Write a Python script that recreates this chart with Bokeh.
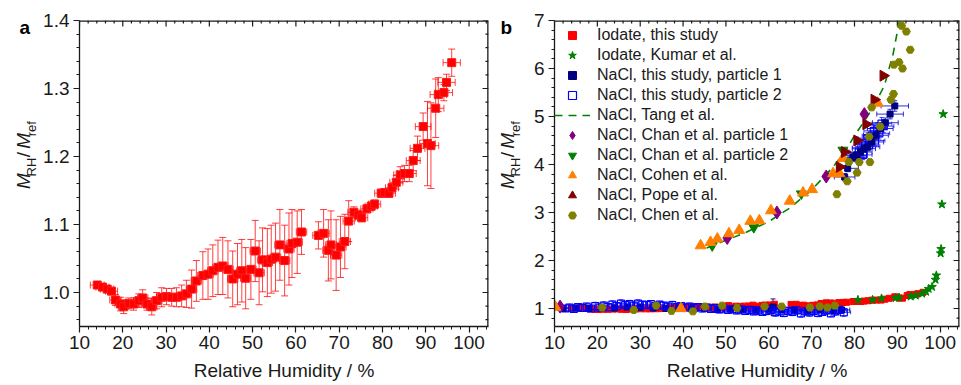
import numpy as np
from bokeh.plotting import figure
from bokeh.layouts import row
from bokeh.models import (ColumnDataSource, Whisker, TeeHead, Range1d,
                          FixedTicker, Legend, LegendItem, PrintfTickFormatter)
from bokeh.core.properties import value
from bokeh.embed import file_html
from bokeh.resources import INLINE

# ---------------- data: panel a (iodate, this study) ----------------
RH_A = [14.1, 15.3, 16.4, 17.4, 18.3, 19.5, 20.2, 21.4, 22.5, 23.7, 24.6, 25.6, 26.7, 27.8,
        29.0, 30.1, 31.3, 32.4, 33.6, 34.7, 35.9, 37.0, 38.5, 39.7, 40.8, 42.0, 43.1, 44.3,
        45.4, 46.5, 47.5, 48.4, 49.6, 50.6, 51.5, 52.3, 53.4, 54.3, 55.3, 56.3, 57.4, 58.4,
        59.1, 60.3, 61.3, 65.2, 66.4, 67.5, 68.1, 69.3, 70.3, 71.3, 72.2, 73.4, 74.4, 75.2,
        76.4, 77.4, 78.2, 79.7, 80.5, 81.5, 82.2, 83.2, 84.1, 85.1, 86.2, 87.1, 88.1, 89.4,
        90.4, 91.2, 92.3, 92.9, 94.2, 94.8, 96.0]
M_A = [1.011, 1.008, 1.005, 1.002, 0.989, 0.983, 0.979, 0.984, 0.983, 0.988, 0.992, 0.983,
       0.979, 0.988, 0.993, 0.994, 0.993, 0.993, 0.995, 0.998, 1.005, 1.017, 1.025, 1.027,
       1.032, 1.037, 1.039, 1.034, 1.020, 1.027, 1.032, 1.021, 1.034, 1.061, 1.029, 1.048,
       1.044, 1.049, 1.052, 1.070, 1.047, 1.064, 1.072, 1.074, 1.089, 1.084, 1.087, 1.062,
       1.070, 1.055, 1.067, 1.075, 1.105, 1.118, 1.114, 1.110, 1.123, 1.127, 1.130, 1.146,
       1.147, 1.146, 1.154, 1.162, 1.173, 1.175, 1.175, 1.194, 1.212, 1.244, 1.219, 1.216,
       1.271, 1.291, 1.294, 1.309, 1.338]
YERR_A = [0.003, 0.003, 0.004, 0.005,
          0.008, 0.010, 0.010, 0.008, 0.009, 0.010, 0.012, 0.009, 0.012, 0.012, 0.014, 0.012,
          0.013, 0.014, 0.016, 0.020,
          0.028, 0.030, 0.035, 0.037, 0.038, 0.040, 0.042, 0.042, 0.041, 0.045, 0.046, 0.045, 0.044,
          0.045, 0.047, 0.047, 0.050, 0.050, 0.050, 0.052, 0.052, 0.053, 0.050, 0.046, 0.033,
          0.020, 0.035, 0.045, 0.050, 0.052, 0.045, 0.040,
          0.030,
          0.008, 0.006, 0.006, 0.006, 0.006, 0.006, 0.006, 0.006, 0.006, 0.006, 0.010, 0.012,
          0.012, 0.012, 0.015, 0.018,
          0.020, 0.062, 0.063, 0.043, 0.025, 0.012, 0.012, 0.020]
XERR_A = [1.6, 1.5, 1.5, 1.4, 1.3, 1.3, 1.2, 1.2, 1.2, 1.2, 1.2, 1.2, 1.2, 1.2,
          1.2, 1.2, 1.2, 1.2, 1.2, 1.2, 1.2, 1.2, 1.2, 1.2, 1.2, 1.2, 1.2, 1.2,
          1.2, 1.2, 1.2, 1.2, 1.2, 1.2, 1.2, 1.2, 1.2, 1.2, 1.2, 1.2, 1.2, 1.2,
          1.2, 1.2, 1.2, 1.3, 1.3, 1.3, 1.3, 1.3, 1.3, 1.3, 1.3, 1.4, 1.4, 1.4,
          1.4, 1.4, 1.4, 1.5, 1.5, 1.5, 1.5, 1.5, 1.5, 1.6, 1.6, 1.6, 1.7, 1.8,
          1.8, 1.8, 1.9, 1.9, 2.0, 2.0, 2.0]

# ---------------- data: panel b ----------------
KUMAR_RH = [80.8, 84.2, 86.3, 89.6, 90.4, 93.1, 94.3, 95.8, 96.7, 97.3, 98.1, 98.9, 99.1,
            100.1, 100.2, 100.4, 100.7]
KUMAR_M = [1.18, 1.18, 1.21, 1.22, 1.23, 1.25, 1.27, 1.31, 1.35, 1.41, 1.45, 1.60, 1.69,
           2.15, 2.24, 3.17, 5.05]

P1_LOW_RH = [12.0, 15.0, 18.0, 21.0, 24.0, 27.0, 30.0, 33.0, 36.0, 39.0, 42.0, 45.0, 48.0,
             51.0, 54.0, 57.0, 60.0, 61.0, 63.0, 66.0, 69.0, 72.0, 75.0, 77.0]
P1_LOW_M = [1.00, 1.01, 1.00, 1.02, 1.01, 1.03, 1.02, 1.01, 1.00, 1.01, 0.99, 1.00, 0.98,
            0.99, 0.98, 0.97, 0.99, 1.03, 0.98, 0.97, 0.96, 0.97, 0.96, 0.97]
P1_LOW_YERR = [0.03, 0.03, 0.03, 0.04, 0.04, 0.04, 0.04, 0.04, 0.04, 0.04, 0.04, 0.04, 0.04,
               0.04, 0.04, 0.05, 0.05, 0.17, 0.05, 0.05, 0.05, 0.05, 0.05, 0.05]
P1_LOW_XERR = [1.2, 1.2, 1.3, 1.3, 1.3, 1.3, 1.3, 1.4, 1.4, 1.4, 1.4, 1.4, 1.5,
               1.5, 1.5, 1.5, 1.6, 1.6, 1.6, 1.7, 1.7, 1.8, 1.8, 1.9]
P1_UP_RH = [77.7, 78.4, 79.6, 80.4, 81.4, 82.2, 83.1, 84.0, 85.0, 86.0, 87.2, 88.3, 89.4]
P1_UP_M = [3.74, 3.92, 4.15, 4.19, 4.26, 4.33, 4.37, 4.47, 4.61, 4.75, 4.87, 5.05, 5.22]
P1_UP_XERR = [2.4, 2.5, 2.6, 2.6, 2.7, 2.7, 2.8, 2.8, 2.9, 3.0, 3.0, 3.1, 3.2]
P1_UP_YERR = [0.07, 0.07, 0.08, 0.08, 0.08, 0.08, 0.09, 0.09, 0.09, 0.10, 0.10, 0.10, 0.11]

P2_LOW_RH = [12.5, 13.5, 14.5, 15.5, 16.5, 17.5, 18.5, 19.5, 20.5, 21.5,
             22.5, 23.5, 24.5, 25.5, 26.5, 27.5, 28.5, 29.5, 30.5, 31.5,
             32.5, 33.5, 34.5, 35.5, 36.5, 37.5, 38.5, 39.5, 40.5, 41.5,
             42.5, 43.5, 44.5, 45.5, 46.5, 47.5, 48.5, 49.5, 50.5, 51.5,
             52.5, 53.5, 54.5, 55.5, 56.5, 57.5, 58.5, 59.5, 60.5, 61.5,
             62.5, 63.5, 64.5, 65.5, 66.5, 67.5, 68.5, 69.5, 70.5, 71.5,
             72.5, 73.5, 74.5, 75.5, 76.5, 77.5]
P2_LOW_M = [1.00, 1.02, 0.99, 1.03, 1.01, 1.04, 1.00, 1.05, 1.02, 1.06,
            1.03, 1.08, 1.05, 1.10, 1.07, 1.09, 1.06, 1.10, 1.08, 1.07,
            1.09, 1.05, 1.08, 1.06, 1.04, 1.07, 1.03, 1.05, 1.02, 1.04,
            1.01, 1.03, 1.00, 1.02, 0.99, 1.01, 0.98, 1.00, 0.97, 0.99,
            0.96, 0.98, 0.95, 0.97, 0.94, 0.96, 0.93, 0.95, 0.97, 0.92,
            0.94, 0.91, 0.95, 0.93, 0.96, 0.90, 0.94, 0.92, 0.95, 0.91,
            0.93, 0.96, 0.90, 0.94, 0.97, 0.92]
P2_LOW_YERR = [0.06, 0.07, 0.06, 0.07, 0.06, 0.07, 0.06, 0.08, 0.07, 0.08,
               0.07, 0.08, 0.07, 0.08, 0.07, 0.08, 0.07, 0.08, 0.07, 0.08,
               0.07, 0.08, 0.07, 0.07, 0.07, 0.08, 0.07, 0.07, 0.07, 0.07,
               0.07, 0.07, 0.07, 0.07, 0.07, 0.07, 0.07, 0.07, 0.07, 0.07,
               0.07, 0.07, 0.07, 0.07, 0.07, 0.08, 0.07, 0.08, 0.07, 0.08,
               0.07, 0.08, 0.07, 0.08, 0.07, 0.08, 0.07, 0.08, 0.07, 0.08,
               0.07, 0.08, 0.07, 0.08, 0.07, 0.08]
P2_LOW_XERR = [1.0, 1.0, 1.0, 1.1, 1.0, 1.1, 1.0, 1.1, 1.0, 1.1,
               1.1, 1.1, 1.1, 1.2, 1.1, 1.2, 1.1, 1.2, 1.1, 1.2,
               1.2, 1.2, 1.2, 1.2, 1.2, 1.2, 1.2, 1.2, 1.2, 1.2,
               1.3, 1.3, 1.3, 1.3, 1.3, 1.3, 1.3, 1.3, 1.3, 1.3,
               1.4, 1.4, 1.4, 1.4, 1.4, 1.4, 1.4, 1.4, 1.4, 1.4,
               1.5, 1.5, 1.5, 1.5, 1.5, 1.5, 1.5, 1.5, 1.5, 1.5,
               1.6, 1.6, 1.6, 1.6, 1.6, 1.6]
P2_UP_RH = [80.5, 81.0, 81.6, 82.0, 82.5, 83.0, 83.4, 84.0, 84.5, 84.8, 85.3, 85.8, 86.3, 86.8]
P2_UP_M = [4.15, 4.25, 4.35, 4.20, 4.45, 4.55, 4.40, 4.60, 4.70, 4.50, 4.75, 4.65, 4.85, 4.80]
P2_UP_XERR = [2.0, 2.0, 2.1, 2.1, 2.1, 2.2, 2.2, 2.2, 2.3, 2.3, 2.3, 2.4, 2.4, 2.4]
P2_UP_YERR = [0.10, 0.10, 0.10, 0.10, 0.11, 0.11, 0.11, 0.11, 0.12, 0.12, 0.12, 0.12, 0.13, 0.13]

TANG_RH = [45.5, 50, 55, 60, 65, 70, 75, 78, 80, 83, 85, 87, 89, 90.5]
TANG_M = [2.26, 2.42, 2.60, 2.81, 3.10, 3.47, 3.95, 4.30, 4.60, 5.00, 5.30, 5.65, 6.30, 7.00]

CHAN1_RH = [11.3, 50.3, 61.9, 73.4, 82.3]
CHAN1_M = [1.04, 2.47, 3.00, 3.75, 5.05]
CHAN2_RH = [46.8, 56.5, 67.6, 77.3]
CHAN2_M = [2.31, 2.69, 3.39, 4.30]
COHEN_RH = [10.2, 39.5, 44.1, 46.4, 48.0, 50.7, 53.1, 55.7, 57.8, 60.5, 64.9, 68.0, 70.1,
            75.0, 76.5, 77.3, 85.4]
COHEN_M = [1.03, 1.00, 2.31, 2.38, 2.45, 2.56, 2.63, 2.82, 2.83, 3.04, 3.24, 3.41, 3.48,
           3.81, 3.81, 4.13, 5.28]
POPE_RH = [76.5, 77.7, 80.6, 82.7, 84.6, 86.7]
POPE_M = [3.95, 4.26, 4.50, 4.84, 5.35, 5.85]
CHEN_RH = [21.1, 28.5, 33.7, 37.3, 42.3, 45.1, 49.1, 52.6, 59.0, 63.0,
           69.6, 71.9, 73.7, 75.4, 75.9, 78.3, 78.7, 80.6, 81.1, 83.6,
           83.4, 86.0, 84.0, 88.5, 89.1, 89.2, 90.4, 91.2, 93.0, 92.1, 91.0]
CHEN_M = [1.02, 0.97, 1.06, 0.95, 0.94, 1.04, 1.06, 1.01, 1.04, 1.04,
          1.02, 1.04, 1.02, 1.06, 3.38, 3.65, 4.05, 3.83, 4.05, 4.05,
          4.58, 4.79, 5.19, 5.35, 5.47, 6.08, 6.13, 6.00, 6.39, 6.77, 6.89]

X_TICKS = [10, 20, 30, 40, 50, 60, 70, 80, 90, 100]
YA_TICKS = [1.0, 1.1, 1.2, 1.3, 1.4]
YB_TICKS = [1, 2, 3, 4, 5, 6, 7]

LEGEND_LABELS = ["Iodate, this study", "Iodate, Kumar et al.", "NaCl, this study, particle 1",
                 "NaCl, this study, particle 2", "NaCl, Tang et al.",
                 "NaCl, Chan et al. particle 1", "NaCl, Chan et al. particle 2",
                 "NaCl, Cohen et al.", "NaCl, Pope et al.", "NaCl, Chen et al."]
YLABEL_PARTS = ["M", "RH", "/", "M", "ref"]
PANEL_LETTERS = ["a", "b"]

# ---------------- styling ----------------
FONT = "Liberation Sans"
INK = "#1a1a1a"
H = 385
X_END = 104.5
FRAME_W = 410.0   # approx. frame size in px (used for mirrored tick lengths)
FRAME_H = 306.0


def style_axis(ax):
    ax.axis_line_color = INK
    ax.axis_line_width = 1.3
    ax.major_tick_line_color = INK
    ax.minor_tick_line_color = INK
    ax.major_tick_line_width = 1.2
    ax.minor_tick_line_width = 1.0
    ax.major_tick_out, ax.major_tick_in = 6, 0
    ax.minor_tick_out, ax.minor_tick_in = 3, 0
    ax.major_label_text_font = FONT
    ax.major_label_text_color = INK
    ax.major_label_text_font_size = "19px"


def minor_between(major, step, lo, hi):
    out = []
    v = lo
    while v <= hi + 1e-9:
        if all(abs(v - m) > 1e-6 for m in major):
            out.append(round(v, 6))
        v += step
    return out


def make_panel(width, left, y_start, y_end, y_ticks, y_minor_lo, y_minor_step, yfmt):
    p = figure(width=width, height=H, x_range=Range1d(10, X_END),
               y_range=Range1d(y_start, y_end), output_backend="svg",
               toolbar_location=None, min_border_left=left, min_border_right=2,
               min_border_top=20, min_border_bottom=59)
    p.outline_line_color = None
    p.grid.visible = False
    p.background_fill_color = "white"
    p.border_fill_color = "white"
    x_minor = minor_between(X_TICKS, 2, 10, 104)
    y_minor = minor_between(y_ticks, y_minor_step, y_minor_lo, y_end)
    p.xaxis.ticker = FixedTicker(ticks=X_TICKS, minor_ticks=x_minor)
    p.yaxis.ticker = FixedTicker(ticks=y_ticks, minor_ticks=y_minor)
    p.yaxis.formatter = PrintfTickFormatter(format=yfmt)
    style_axis(p.xaxis[0])
    style_axis(p.yaxis[0])
    p.xaxis.major_label_standoff = 3
    p.yaxis.major_label_standoff = 4
    p.xaxis.axis_label = "Relative Humidity / %"
    p.xaxis.axis_label_text_font = FONT
    p.xaxis.axis_label_text_font_size = "19px"
    p.xaxis.axis_label_text_font_style = "normal"
    p.xaxis.axis_label_text_color = INK
    p.xaxis.axis_label_standoff = 8

    # mirrored frame edges with inward ticks (top and right)
    dx = (X_END - 10) / FRAME_W          # data units per px along x
    dy = (y_end - y_start) / FRAME_H     # data units per px along y
    p.segment(x0=[10, X_END], y0=[y_end, y_start], x1=[X_END, X_END], y1=[y_end, y_end],
              line_color=INK, line_width=2.6)
    for ticks, n in ((X_TICKS, 6), (x_minor, 3)):
        p.segment(x0=ticks, y0=[y_end] * len(ticks), x1=ticks,
                  y1=[y_end - n * dy] * len(ticks), line_color=INK, line_width=1.2)
    for ticks, n in ((y_ticks, 6), (y_minor, 3)):
        p.segment(x0=[X_END] * len(ticks), y0=ticks, x1=[X_END - n * dx] * len(ticks),
                  y1=ticks, line_color=INK, line_width=1.2)
    return p


def make_label_strip(width, letter, main_cx, sub_cx, letter_x):
    """Narrow text-only strip holding the panel letter and the rotated y-axis title.
    Coordinates of this strip are plain canvas pixels (y measured from the bottom)."""
    s = figure(width=width, height=H, x_range=Range1d(0, width), y_range=Range1d(0, H),
               output_backend="svg", toolbar_location=None, title_location=None,
               min_border=0, min_border_top=0, min_border_bottom=0,
               min_border_left=0, min_border_right=0,
               x_axis_location=None, y_axis_location=None)
    if s.title is not None:
        s.title.visible = False
    s.outline_line_color = None
    s.grid.visible = False
    s.background_fill_color = "white"
    s.border_fill_color = "white"
    # the rotated title starts (bottom) at canvas y = 212 px; offsets along the text
    y0 = H - 212
    offs = [0.0, 15.8, 39.9, 50.5, 66.3]
    styles = ["italic", "normal", "normal", "italic", "normal"]
    sizes = ["19px", "13px", "19px", "19px", "13px"]
    xs = [main_cx, sub_cx, main_cx, main_cx, sub_cx]
    for txt, off, st, sz, x in zip(YLABEL_PARTS, offs, styles, sizes, xs):
        s.text(x=[x], y=[y0 + off], text=[txt], angle=np.pi / 2,
               text_font=value(FONT), text_font_style=st, text_font_size=value(sz),
               text_color=INK, text_align="left", text_baseline="middle")
    s.text(x=[letter_x], y=[H - 8.5], text=[letter], text_font=value(FONT),
           text_font_style="bold", text_font_size=value("19px"), text_color="black",
           text_align="left", text_baseline="middle")
    return s


def add_err(p, rh, m, xerr, yerr, color, alpha, cap):
    rh = np.asarray(rh, float)
    m = np.asarray(m, float)
    xe = np.asarray(xerr, float)
    ye = np.asarray(yerr, float)
    src = ColumnDataSource(dict(x=rh, y=m, xl=rh - xe, xu=rh + xe, yl=m - ye, yu=m + ye))
    for base, lo, hi, dim in (("x", "yl", "yu", "height"), ("y", "xl", "xu", "width")):
        w = Whisker(source=src, base=base, lower=lo, upper=hi, dimension=dim,
                    line_color=color, line_alpha=alpha, line_width=1,
                    upper_head=TeeHead(size=cap, line_color=color, line_alpha=alpha, line_width=1),
                    lower_head=TeeHead(size=cap, line_color=color, line_alpha=alpha, line_width=1))
        p.add_layout(w)


# ---------------- panel a ----------------
la = make_label_strip(40, PANEL_LETTERS[0], 23.0, 31.0, 19)
pa = make_panel(450, 37, 0.95, 1.4, YA_TICKS, 0.96, 0.02, "%.1f")
add_err(pa, RH_A, M_A, XERR_A, YERR_A, "#ff0000", 0.75, 7)
pa.scatter(RH_A, M_A, marker="square", size=8, fill_color="#ff0000", line_color="#ff1a1a",
           line_width=1)

# ---------------- panel b ----------------
lb = make_label_strip(40, PANEL_LETTERS[1], 16.5, 24.5, 10)
pb = make_panel(431, 21, 0.625, 7.0, YB_TICKS, 0.8, 0.2, "%d")

r_red = pb.scatter(RH_A, M_A, marker="square", size=6, fill_color="#ff0000",
                   line_color="#ff0000")
r_kumar = pb.scatter(KUMAR_RH, KUMAR_M, marker="star", size=9, fill_color="#008000",
                     line_color="#008000")
add_err(pb, P1_LOW_RH, P1_LOW_M, P1_LOW_XERR, P1_LOW_YERR, "#00008b", 0.9, 5)
r_p1 = pb.scatter(P1_LOW_RH, P1_LOW_M, marker="square", size=6, fill_color="#000080",
                  line_color="#000080")
add_err(pb, P2_LOW_RH, P2_LOW_M, P2_LOW_XERR, P2_LOW_YERR, "#1f1fff", 0.85, 4)
add_err(pb, P2_UP_RH, P2_UP_M, P2_UP_XERR, P2_UP_YERR, "#1f1fff", 0.85, 4)
r_p2 = pb.scatter(P2_LOW_RH, P2_LOW_M, marker="square", size=7, fill_color=None,
                  line_color="#0000ff", line_width=1.2)
pb.scatter(P2_UP_RH, P2_UP_M, marker="square", size=7, fill_color=None,
           line_color="#0000ff", line_width=1.2)
add_err(pb, P1_UP_RH, P1_UP_M, P1_UP_XERR, P1_UP_YERR, "#1a1acc", 0.9, 5)
pb.scatter(P1_UP_RH, P1_UP_M, marker="square", size=6, fill_color="#000080",
           line_color="#000080")
r_tang = pb.line(TANG_RH, TANG_M, line_color="#008000", line_width=1.6, line_dash="8 6")
r_chan1 = pb.scatter(CHAN1_RH, CHAN1_M, marker="diamond", size=13, fill_color="#800080",
                     line_color="#800080")
r_chan2 = pb.scatter(CHAN2_RH, CHAN2_M, marker="inverted_triangle", size=10,
                     fill_color="#008000", line_color="#008000")
r_cohen = pb.scatter(COHEN_RH, COHEN_M, marker="triangle", size=11, fill_color="#ff8000",
                     line_color="#ff8000")
r_pope = pb.scatter(POPE_RH, POPE_M, marker="triangle", angle=-np.pi / 2, size=11,
                    fill_color="#800000", line_color="#800000")
r_chen = pb.scatter(CHEN_RH, CHEN_M, marker="hex", size=8, fill_color="#808000",
                    line_color="#808000")

renderers = [r_red, r_kumar, r_p1, r_p2, r_tang, r_chan1, r_chan2, r_cohen, r_pope, r_chen]
legend = Legend(items=[LegendItem(label=lab, renderers=[r])
                       for lab, r in zip(LEGEND_LABELS, renderers)],
                location=(0, 101), glyph_width=36, glyph_height=20, label_height=20,
                spacing=0, padding=0, margin=0, label_standoff=7,
                label_text_font=FONT, label_text_font_size="16px", label_text_color=INK,
                background_fill_alpha=0, border_line_alpha=0)
pb.add_layout(legend)

layout = row(la, pa, lb, pb)
open("out.html", "w").write(file_html(layout, INLINE))
